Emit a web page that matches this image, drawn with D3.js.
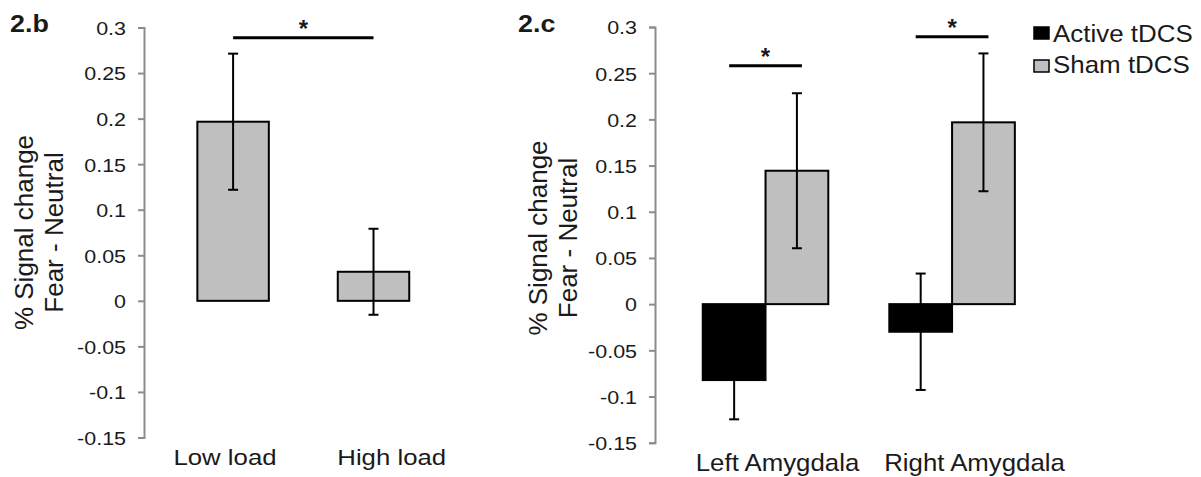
<!DOCTYPE html>
<html><head><meta charset="utf-8">
<script src="https://cdn.jsdelivr.net/npm/d3@7"></script>
<style>
body{margin:0;background:#fff}
svg{display:block;background:#fff}
text{font-family:"Liberation Sans",Arial,sans-serif;fill:#1a1a1a}
</style>
</head><body>
<svg id="chart" width="1201" height="477"></svg>
<script>
// ---- data ----
const loadCategories = ["Low load", "High load"];
const loadMeans = [0.1966, 0.0319];
const loadSem = [0.0747, 0.0472];

const regionCategories = ["Left Amygdala", "Right Amygdala"];
const conditions = ["Active tDCS", "Sham tDCS"];
const activeMeans = [-0.0822, -0.0299];
const activeSem = [0.0425, 0.0630];
const shamMeans = [0.1444, 0.1968];
const shamSem = [0.0839, 0.0746];

const yTicks = [0.3, 0.25, 0.2, 0.15, 0.1, 0.05, 0, -0.05, -0.1, -0.15];
const yTickLabels = ["0.3", "0.25", "0.2", "0.15", "0.1", "0.05", "0", "-0.05", "-0.1", "-0.15"];

const sigLoadY = [0.2888];
const sigRegionY = [0.258, 0.2895];

const yTitleLines = ["% Signal change", "Fear - Neutral"];
const panelLabels = ["2.b", "2.c"];

// ---- styles ----
const GRAY = "#bfbfbf";
const AXIS = "#8c8c8c";
const svg = d3.select("#chart");

function addText(g, x, y, str, size, sx, anchor, weight) {
  return g.append("text")
    .attr("transform", `translate(${x},${y}) scale(${sx},1)`)
    .attr("text-anchor", anchor || "start")
    .attr("font-size", size)
    .attr("font-weight", weight || "normal")
    .text(str);
}

function drawAxis(x0, y) {
  const g = svg.append("g").attr("transform", `translate(${x0},0)`)
    .call(d3.axisLeft(y).tickValues(yTicks)
      .tickFormat(d => yTickLabels[yTicks.indexOf(d)])
      .tickSize(6).tickSizeOuter(6));
  g.select(".domain").attr("stroke", AXIS).attr("stroke-width", 2);
  g.selectAll(".tick line").attr("stroke", AXIS).attr("stroke-width", 2);
  const sx = 1.13;
  g.selectAll(".tick text")
    .attr("font-family", "Liberation Sans, Arial, sans-serif")
    .attr("font-size", 19).attr("fill", "#1a1a1a")
    .attr("x", -18 / sx).attr("dy", "0.36em")
    .attr("transform", `scale(${sx},1)`);
}

function drawTitle(xb1, xb2, cy) {
  [xb1, xb2].forEach((xb, i) => {
    svg.append("text")
      .attr("transform", `translate(${xb},${cy}) rotate(-90)`)
      .attr("text-anchor", "middle").attr("font-size", 26)
      .text(yTitleLines[i]);
  });
}

function errorBar(cx, y, m, s) {
  const g = svg.append("g").attr("stroke", "#000").attr("stroke-width", 2);
  g.append("line").attr("x1", cx).attr("x2", cx).attr("y1", y(m + s)).attr("y2", y(m - s));
  [m + s, m - s].forEach(v => g.append("line")
    .attr("x1", cx - 5).attr("x2", cx + 5).attr("y1", y(v)).attr("y2", y(v)));
}

function sigBracket(xa, xb, yv, y) {
  svg.append("line").attr("x1", xa).attr("x2", xb).attr("y1", y(yv)).attr("y2", y(yv))
    .attr("stroke", "#000").attr("stroke-width", 3);
  svg.append("text").attr("x", (xa + xb) / 2).attr("y", y(yv) - 1)
    .attr("text-anchor", "middle").attr("font-size", 24).attr("font-weight", "bold")
    .text("*");
}

// ---- panel 2.b ----
const yB = d3.scaleLinear().domain([-0.15, 0.3]).range([437.5, 27.5]);
const xB = d3.scaleBand().domain(loadCategories).range([144, 462.6])
  .paddingInner(0.491).paddingOuter(0.38);
const lblB = d3.scalePoint().domain(loadCategories).range([225, 391.7]);

drawAxis(144, yB);
loadCategories.forEach((c, i) => {
  const m = loadMeans[i];
  svg.append("rect")
    .attr("x", xB(c)).attr("width", xB.bandwidth())
    .attr("y", Math.min(yB(m), yB(0))).attr("height", Math.abs(yB(m) - yB(0)))
    .attr("fill", GRAY).attr("stroke", "#000").attr("stroke-width", 2);
});
loadCategories.forEach((c, i) => errorBar(xB(c) + xB.bandwidth() / 2, yB, loadMeans[i], loadSem[i]));
loadCategories.forEach(c => addText(svg, lblB(c), 465, c, 23, 1.12, "middle"));
sigBracket(xB(loadCategories[0]) + xB.bandwidth() / 2, xB(loadCategories[1]) + xB.bandwidth() / 2, sigLoadY[0], yB);
drawTitle(33, 63.3, 232.5);
addText(svg, 10, 32.3, panelLabels[0], 24, 1.12, "start", "bold");

// ---- panel 2.c ----
const yC = d3.scaleLinear().domain([-0.15, 0.3]).range([442.7, 27]);
const xC = d3.scaleBand().domain(regionCategories).range([655, 1062.6])
  .paddingInner(0.327).paddingOuter(0.256);
const xSub = d3.scaleBand().domain(conditions).range([0, xC.bandwidth()]);
const lblC = d3.scalePoint().domain(regionCategories).range([777.5, 974.5]);
const condMeans = [activeMeans, shamMeans];
const condSem = [activeSem, shamSem];
const condFill = ["#000", GRAY];

drawAxis(655, yC);
regionCategories.forEach((r, i) => {
  conditions.forEach((c, k) => {
    const m = condMeans[k][i];
    svg.append("rect")
      .attr("x", xC(r) + xSub(c)).attr("width", xSub.bandwidth())
      .attr("y", Math.min(yC(m), yC(0))).attr("height", Math.abs(yC(m) - yC(0)))
      .attr("fill", condFill[k]).attr("stroke", "#000").attr("stroke-width", 2);
  });
});
regionCategories.forEach((r, i) => {
  conditions.forEach((c, k) => {
    errorBar(xC(r) + xSub(c) + xSub.bandwidth() / 2, yC, condMeans[k][i], condSem[k][i]);
  });
});
regionCategories.forEach(r => addText(svg, lblC(r), 470.5, r, 24, 1.075, "middle"));
regionCategories.forEach((r, i) => {
  const a = xC(r) + xSub(conditions[0]) + xSub.bandwidth() / 2 - 5;
  const b = xC(r) + xSub(conditions[1]) + xSub.bandwidth() / 2 + 5;
  sigBracket(a, b, sigRegionY[i], yC);
});
drawTitle(547, 577, 238);
addText(svg, 518, 32.3, panelLabels[1], 24, 1.12, "start", "bold");

// ---- legend ----
const legendY = [27, 60];
const legendBase = [41.7, 72.7];
conditions.forEach((c, k) => {
  svg.append("rect").attr("x", 1034).attr("y", legendY[k]).attr("width", 15).attr("height", 12)
    .attr("fill", condFill[k]).attr("stroke", "#000").attr("stroke-width", 1.5);
  addText(svg, 1053, legendBase[k], c, 24, 1.08, "start");
});
</script>
</body></html>
